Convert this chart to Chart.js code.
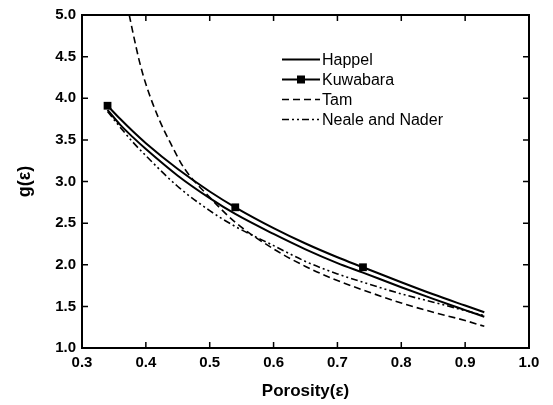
<!DOCTYPE html>
<html><head><meta charset="utf-8">
<script src="https://cdn.jsdelivr.net/npm/chart.js@4.4.0/dist/chart.umd.min.js"></script>
<style>html,body{margin:0;padding:0;background:#fff}#wrap{width:553px;height:405px}</style>
</head><body><div id="wrap"><canvas id="c" width="553" height="405"></canvas></div>
<script>
// ---- data ----
const porosity  = [0.34, 0.36, 0.38, 0.40, 0.45, 0.50, 0.54, 0.60, 0.65, 0.70, 0.74, 0.80, 0.85, 0.90, 0.93];
const happel    = [3.86, 3.68, 3.53, 3.39, 3.07, 2.80, 2.61, 2.37, 2.185, 2.02, 1.905, 1.73, 1.59, 1.455, 1.375];
const kuwabara  = [3.91, 3.75, 3.60, 3.46, 3.15, 2.88, 2.69, 2.44, 2.255, 2.09, 1.97, 1.79, 1.645, 1.51, 1.43];
const neale     = [3.84, 3.65, 3.47, 3.31, 2.94, 2.65, 2.46, 2.23, 2.04, 1.89, 1.79, 1.65, 1.55, 1.45, 1.39];
const tamPorosity = [0.374, 0.38, 0.39, 0.40, 0.42, 0.44, 0.46, 0.50, 0.54, 0.60, 0.65, 0.70, 0.75, 0.80, 0.85, 0.90, 0.93];
const tam         = [5.00, 4.78, 4.44, 4.17, 3.76, 3.44, 3.16, 2.81, 2.51, 2.19, 1.98, 1.81, 1.67, 1.54, 1.43, 1.33, 1.26];
const kuwabaraMarkerAt = [0.34, 0.54, 0.74];
const xTickValues = [0.3, 0.4, 0.5, 0.6, 0.7, 0.8, 0.9, 1.0];
const yTickValues = [1.0, 1.5, 2.0, 2.5, 3.0, 3.5, 4.0, 4.5, 5.0];
const seriesNames = ['Happel', 'Kuwabara', 'Tam', 'Neale and Nader'];
const xTitle = 'Porosity(\u03b5)';
const yTitle = 'g(\u03b5)';

const pts = (xs, ys) => xs.map((x, i) => ({x: x, y: ys[i]}));
const FONT = "'Liberation Sans', Arial, sans-serif";

const frame = {
  id: 'frame',
  afterDatasetsDraw(chart) {
    const {ctx, chartArea: a, scales} = chart;
    ctx.save();
    ctx.strokeStyle = '#000';
    ctx.lineWidth = 2;
    ctx.setLineDash([]);
    ctx.strokeRect(a.left, a.top, a.right - a.left, a.bottom - a.top);
    ctx.lineWidth = 1.5;
    const L = 6;
    xTickValues.forEach(v => {
      const x = scales.x.getPixelForValue(v);
      ctx.beginPath();
      ctx.moveTo(x, a.bottom); ctx.lineTo(x, a.bottom - L);
      ctx.moveTo(x, a.top); ctx.lineTo(x, a.top + L);
      ctx.stroke();
    });
    yTickValues.forEach(v => {
      const y = scales.y.getPixelForValue(v);
      ctx.beginPath();
      ctx.moveTo(a.left, y); ctx.lineTo(a.left + L, y);
      ctx.moveTo(a.right, y); ctx.lineTo(a.right - L, y);
      ctx.stroke();
    });
    ctx.restore();
  },
  afterDraw(chart) {
    const {ctx} = chart;
    ctx.save();
    const x0 = 282, x1 = 320, tx = 322;
    const rows = [59.5, 79.5, 99.5, 119.5];
    chart.data.datasets.forEach((ds, i) => {
      const y = rows[i];
      ctx.strokeStyle = '#000';
      ctx.lineWidth = ds.borderWidth;
      ctx.setLineDash(ds.borderDash || []);
      ctx.beginPath(); ctx.moveTo(x0, y); ctx.lineTo(x1, y); ctx.stroke();
      ctx.setLineDash([]);
      if (ds.legendMarker) {
        ctx.fillStyle = '#000';
        ctx.fillRect((x0 + x1) / 2 - 4, y - 4, 8, 8);
      }
      ctx.fillStyle = '#000';
      ctx.font = '16px ' + FONT;
      ctx.textBaseline = 'middle';
      ctx.textAlign = 'left';
      ctx.fillText(ds.label, tx, y + 1);
    });
    ctx.restore();
  }
};

new Chart(document.getElementById('c'), {
  type: 'line',
  data: {
    datasets: [
      { label: seriesNames[0], data: pts(porosity, happel), borderColor: '#000', borderWidth: 2,
        pointRadius: 0, cubicInterpolationMode: 'monotone' },
      { label: seriesNames[1], data: pts(porosity, kuwabara), borderColor: '#000', borderWidth: 2,
        backgroundColor: '#000', pointBackgroundColor: '#000', pointStyle: 'rect',
        pointRadius: porosity.map(p => kuwabaraMarkerAt.includes(p) ? 5.5 : 0),
        pointBorderWidth: 0, cubicInterpolationMode: 'monotone', legendMarker: true },
      { label: seriesNames[2], data: pts(tamPorosity, tam), borderColor: '#000', borderWidth: 1.6,
        borderDash: [7, 4], pointRadius: 0, cubicInterpolationMode: 'monotone' },
      { label: seriesNames[3], data: pts(porosity, neale), borderColor: '#000', borderWidth: 1.6,
        borderDash: [7, 3, 2, 3, 2, 3], pointRadius: 0, cubicInterpolationMode: 'monotone' }
    ]
  },
  options: {
    responsive: false, animation: false, devicePixelRatio: 1,
    layout: { padding: { left: 0, top: 14, right: 24, bottom: 0 } },
    plugins: { legend: { display: false }, tooltip: { enabled: false } },
    scales: {
      x: {
        type: 'linear', min: 0.3, max: 1.0,
        afterFit(s) { s.height = 57; },
        afterBuildTicks(s) { s.ticks = xTickValues.map(v => ({value: v})); },
        grid: { display: false, drawTicks: false },
        border: { display: false },
        ticks: { padding: 6, color: '#000', font: { family: FONT, size: 15, weight: 'bold' },
                 callback: v => Number(v).toFixed(1), maxRotation: 0, autoSkip: false },
        title: { display: true, text: xTitle, color: '#000', padding: { top: 0, bottom: 3 },
                 font: { family: FONT, size: 17, weight: 'bold' } }
      },
      y: {
        type: 'linear', min: 1.0, max: 5.0,
        afterFit(s) { s.width = 82; },
        afterBuildTicks(s) { s.ticks = yTickValues.map(v => ({value: v})); },
        grid: { display: false, drawTicks: false },
        border: { display: false },
        ticks: { padding: 6, color: '#000', font: { family: FONT, size: 15, weight: 'bold' },
                 callback: v => Number(v).toFixed(1), autoSkip: false },
        title: { display: true, text: yTitle, color: '#000', padding: { top: 14, bottom: 0 },
                 font: { family: FONT, size: 18, weight: 'bold' } }
      }
    }
  },
  plugins: [frame]
});
</script></body></html>
